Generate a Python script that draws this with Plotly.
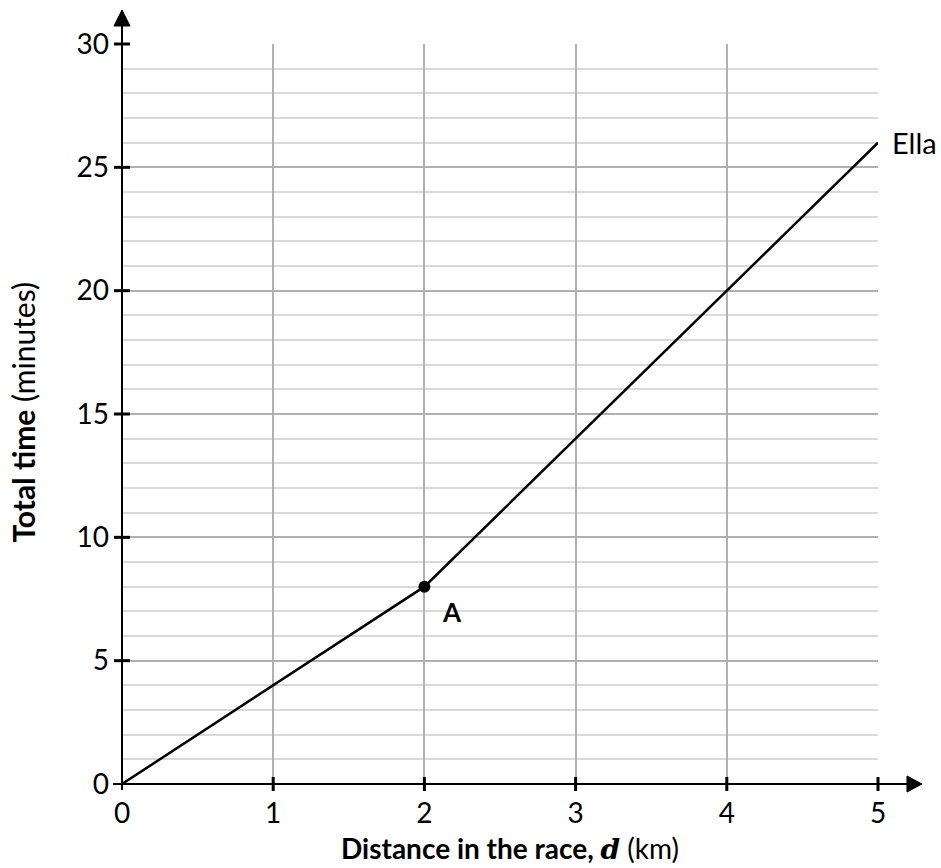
import plotly.graph_objects as go

# Data
distance_km = [0, 2, 5]
time_min = [0, 8, 26]
point_a_x = [2]
point_a_y = [8]
x_ticks = [0, 1, 2, 3, 4, 5]
y_ticks = [0, 5, 10, 15, 20, 25, 30]
series_name = "Ella"
point_label = "A"

X_RANGE = [0, 5]
Y_RANGE = [0, 30]

FONT = "Lato, 'Open Sans', sans-serif"
FS_TICK = 28

W, H = 941, 868
ML, MR, MT, MB = 122, 63, 44, 84
PW, PH = W - ML - MR, H - MT - MB


def px_x(v):
    return (v - X_RANGE[0]) / (X_RANGE[1] - X_RANGE[0])


def px_y(v):
    return (v - Y_RANGE[0]) / (Y_RANGE[1] - Y_RANGE[0])


fig = go.Figure()
fig.add_trace(go.Scatter(x=distance_km, y=time_min, mode="lines",
                         line=dict(color="black", width=2.5), showlegend=False,
                         hoverinfo="skip"))
fig.add_trace(go.Scatter(x=point_a_x, y=point_a_y, mode="markers",
                         marker=dict(color="black", size=12), showlegend=False,
                         hoverinfo="skip"))

shapes = []
ax_line = dict(color="black", width=2)
# y axis line with arrow
shapes.append(dict(type="line", xref="paper", yref="paper", x0=0, x1=0,
                   y0=-6 / PH, y1=1 + 19 / PH, line=ax_line))
shapes.append(dict(type="path", xref="paper", yref="paper",
                   path=f"M {-8 / PW},{1 + 18 / PH} L {8 / PW},{1 + 18 / PH} L 0,{1 + 34 / PH} Z",
                   fillcolor="black", line=dict(color="black", width=1)))
# x axis line with arrow
shapes.append(dict(type="line", xref="paper", yref="paper", y0=0, y1=0,
                   x0=-9 / PW, x1=1 + 30 / PW, line=ax_line))
shapes.append(dict(type="path", xref="paper", yref="paper",
                   path=f"M {1 + 29 / PW},{8 / PH} L {1 + 29 / PW},{-8 / PH} L {1 + 44 / PW},0 Z",
                   fillcolor="black", line=dict(color="black", width=1)))
# ticks crossing the axes
for v in x_ticks[1:]:
    shapes.append(dict(type="line", xref="paper", yref="paper",
                       x0=px_x(v), x1=px_x(v), y0=-7 / PH, y1=7 / PH,
                       line=dict(color="black", width=3)))
for v in y_ticks[1:]:
    shapes.append(dict(type="line", xref="paper", yref="paper",
                       y0=px_y(v), y1=px_y(v), x0=-8 / PW, x1=8 / PW,
                       line=dict(color="black", width=3)))

annotations = [
    dict(x=distance_km[-1], y=time_min[-1], xref="x", yref="y", text=series_name,
         showarrow=False, xanchor="left", yanchor="middle", xshift=12,
         font=dict(family=FONT, size=29, color="black")),
    dict(x=point_a_x[0], y=point_a_y[0], xref="x", yref="y", text=f"<b>{point_label}</b>",
         showarrow=False, xanchor="center", yanchor="middle", xshift=28, yshift=-25,
         font=dict(family=FONT, size=26, color="black")),
    dict(x=0.5135, y=0, xref="paper", yref="paper",
         text="<b>Distance in the race, </b><span style=\"font-family:'DejaVu Serif'\"><b><i>d</i></b></span> (km)",
         showarrow=False, xanchor="center", yanchor="middle", yshift=-64,
         font=dict(family=FONT, size=28, color="black")),
    dict(x=0, y=0.502, xref="paper", yref="paper",
         text="<b>Total time</b> (minutes)", textangle=-90,
         showarrow=False, xanchor="center", yanchor="middle", xshift=-99,
         font=dict(family=FONT, size=30, color="black")),
]

fig.update_layout(
    width=W, height=H,
    margin=dict(l=ML, r=MR, t=MT, b=MB, pad=0),
    paper_bgcolor="white", plot_bgcolor="white",
    shapes=shapes, annotations=annotations,
    font=dict(family=FONT, size=FS_TICK, color="black"),
    xaxis=dict(range=X_RANGE, tickvals=x_ticks, ticktext=[str(v) for v in x_ticks],
               showgrid=True, gridcolor="#b0b0b0", gridwidth=2,
               zeroline=False, showline=False, ticks="", ticklabelstandoff=10,
               fixedrange=True),
    yaxis=dict(range=Y_RANGE, tickvals=y_ticks, ticktext=[str(v) for v in y_ticks],
               showgrid=True, gridcolor="#b0b0b0", gridwidth=2,
               minor=dict(dtick=1, showgrid=True, gridcolor="#d9d9d9", gridwidth=2),
               zeroline=False, showline=False, ticks="", ticklabelstandoff=12,
               fixedrange=True),
)

fig.write_html("out.html", config={"displayModeBar": False},
               post_script="document.body.style.margin='0';")
